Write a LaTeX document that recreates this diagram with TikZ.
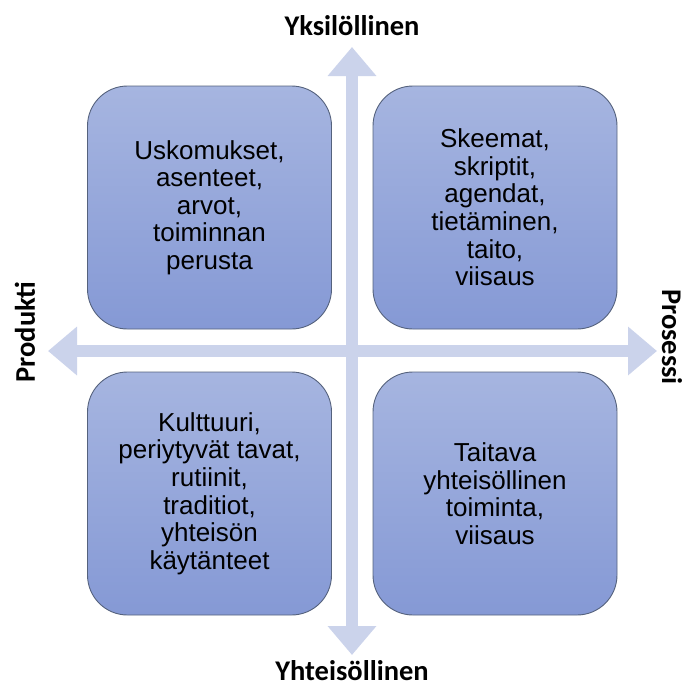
\documentclass[tikz,border=0pt]{standalone}
\usepackage{fontspec}
\setmainfont{Liberation Sans}
\newfontfamily\labelfont{Carlito}
\usetikzlibrary{arrows.meta}
\definecolor{axisc}{RGB}{203,211,235}
\definecolor{boxtop}{RGB}{166,181,224}
\definecolor{boxbot}{RGB}{133,153,213}
\definecolor{boxline}{RGB}{85,98,125}
\tikzset{
  quad/.style={draw=boxline, line width=0.9pt, rounded corners=40pt,
    top color=boxtop, bottom color=boxbot,
    minimum width=244pt, minimum height=243pt, align=center,
    font=\fontsize{26}{27.6}\selectfont, text=black, inner sep=0pt},
  axislabel/.style={font=\labelfont\bfseries\fontsize{28.5}{30}\selectfont, inner sep=0pt},
  axisarrow/.style={draw=axisc, line width=12pt,
    {Triangle[width=47pt,length=29pt]}-{Triangle[width=47pt,length=29pt]}}
}
\begin{document}
\begin{tikzpicture}[x=1pt,y=-1pt]
\useasboundingbox (0,0) rectangle (686,689);
\coordinate (W) at (48,351);
\coordinate (E) at (657,351);
\coordinate (N) at (352,47);
\coordinate (S) at (352,655);
\draw[axisarrow] (W) -- (E);
\draw[axisarrow] (N) -- (S);

\node[quad] (tl) at (209.5,207.5) {Uskomukset,\\asenteet,\\arvot,\\toiminnan\\perusta};
\node[quad] (tr) at (495,207.5) {Skeemat,\\skriptit,\\agendat,\\tietäminen,\\taito,\\viisaus};
\node[quad] (bl) at (209.5,493.5) {Kulttuuri,\\periytyvät tavat,\\rutiinit,\\traditiot,\\yhteisön\\käytänteet};
\node[quad] (br) at (495,493.5) {Taitava\\yhteisöllinen\\toiminta,\\viisaus};

\node[axislabel] (top) at (352,26) {Yksilöllinen};
\node[axislabel] (bot) at (352,671) {Yhteisöllinen};
\node[axislabel, rotate=90] (left) at (25,332) {Produkti};
\node[axislabel, rotate=-90] (right) at (672,337) {Prosessi};
\end{tikzpicture}
\end{document}
